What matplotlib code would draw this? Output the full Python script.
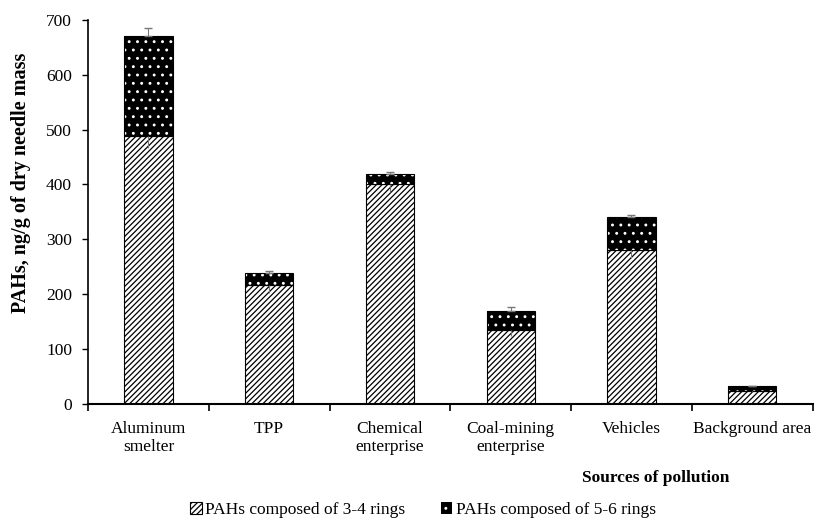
import matplotlib
matplotlib.use("Agg")
import matplotlib.pyplot as plt
import numpy as np
from matplotlib.patches import Patch

categories = ["Aluminum\nsmelter", "TPP", "Chemical\nenterprise", "Coal-mining\nenterprise", "Vehicles", "Background area"]
rings_34 = [488, 217, 401, 134, 280, 24]
rings_56 = [183, 22, 19, 36, 60, 8]
err_34 = [21, 14, 15, 10, 14, 2]
err_total = [14, 3, 3, 7, 5, 1]

plt.rcParams['font.family'] = ['Liberation Serif', 'DejaVu Serif']
plt.rcParams['hatch.linewidth'] = 0.9

fig = plt.figure(figsize=(8.15, 5.22), dpi=100)
ax = fig.add_axes([0.108, 0.226, 0.889, 0.736])

x = np.arange(len(categories))
w = 0.4
lower = np.array(rings_34)
upper = np.array(rings_56)
total = lower + upper

ax.bar(x, lower, w, color='white', edgecolor='black', hatch='//////', linewidth=0.8, zorder=2)
ax.bar(x, upper, w, bottom=lower, color='black', edgecolor='white', hatch='..', linewidth=0, zorder=2)
ax.bar(x, upper, w, bottom=lower, fill=False, edgecolor='black', linewidth=0.8, zorder=3)

ax.errorbar(x, lower, yerr=[err_34, np.zeros(len(x))], fmt='none', ecolor='#777777', elinewidth=0.8, capsize=0, zorder=4)
ax.errorbar(x, total, yerr=[np.zeros(len(x)), err_total], fmt='none', ecolor='#777777', elinewidth=0.8, capsize=3, zorder=4)

ax.set_xlim(-0.5, len(x) - 0.5)
ax.set_ylim(0, 700)
ax.set_yticks(np.arange(0, 701, 100))
ax.tick_params(axis='y', labelsize=12.5, direction='out', length=4.5, width=1, pad=7)
ax.set_xticks(x)
ax.set_xticklabels(categories, fontsize=12.5, linespacing=1.2)
ax.tick_params(axis='x', length=0, pad=12)
ax.set_xticks(np.arange(-0.5, len(x), 1), minor=True)
ax.tick_params(axis='x', which='minor', length=5, width=1.2, direction='out')
for s in ['top', 'right']:
    ax.spines[s].set_visible(False)
ax.spines['left'].set_linewidth(1.2)
ax.spines['bottom'].set_linewidth(1.5)

fig.text(0.0258, 0.650, "PAHs, ng/g of dry needle mass", fontsize=14.5, fontweight='bold',
         rotation=90, ha='center', va='center')
fig.text(0.805, 0.084, "Sources of pollution", fontsize=12.5, fontweight='bold', ha='center', va='center')

handles = [Patch(facecolor='white', edgecolor='black', hatch='//////', linewidth=0.8),
           Patch(facecolor='black', edgecolor='white', hatch='..', linewidth=0)]
fig.legend(handles, ["PAHs composed of 3-4 rings", "PAHs composed of 5-6 rings"],
           loc='center', bbox_to_anchor=(0.519, 0.023), ncol=2, frameon=False, fontsize=12.5,
           handlelength=0.65, handleheight=0.65, handletextpad=0.2, columnspacing=2.05)

fig.savefig("out.png", dpi=100)
